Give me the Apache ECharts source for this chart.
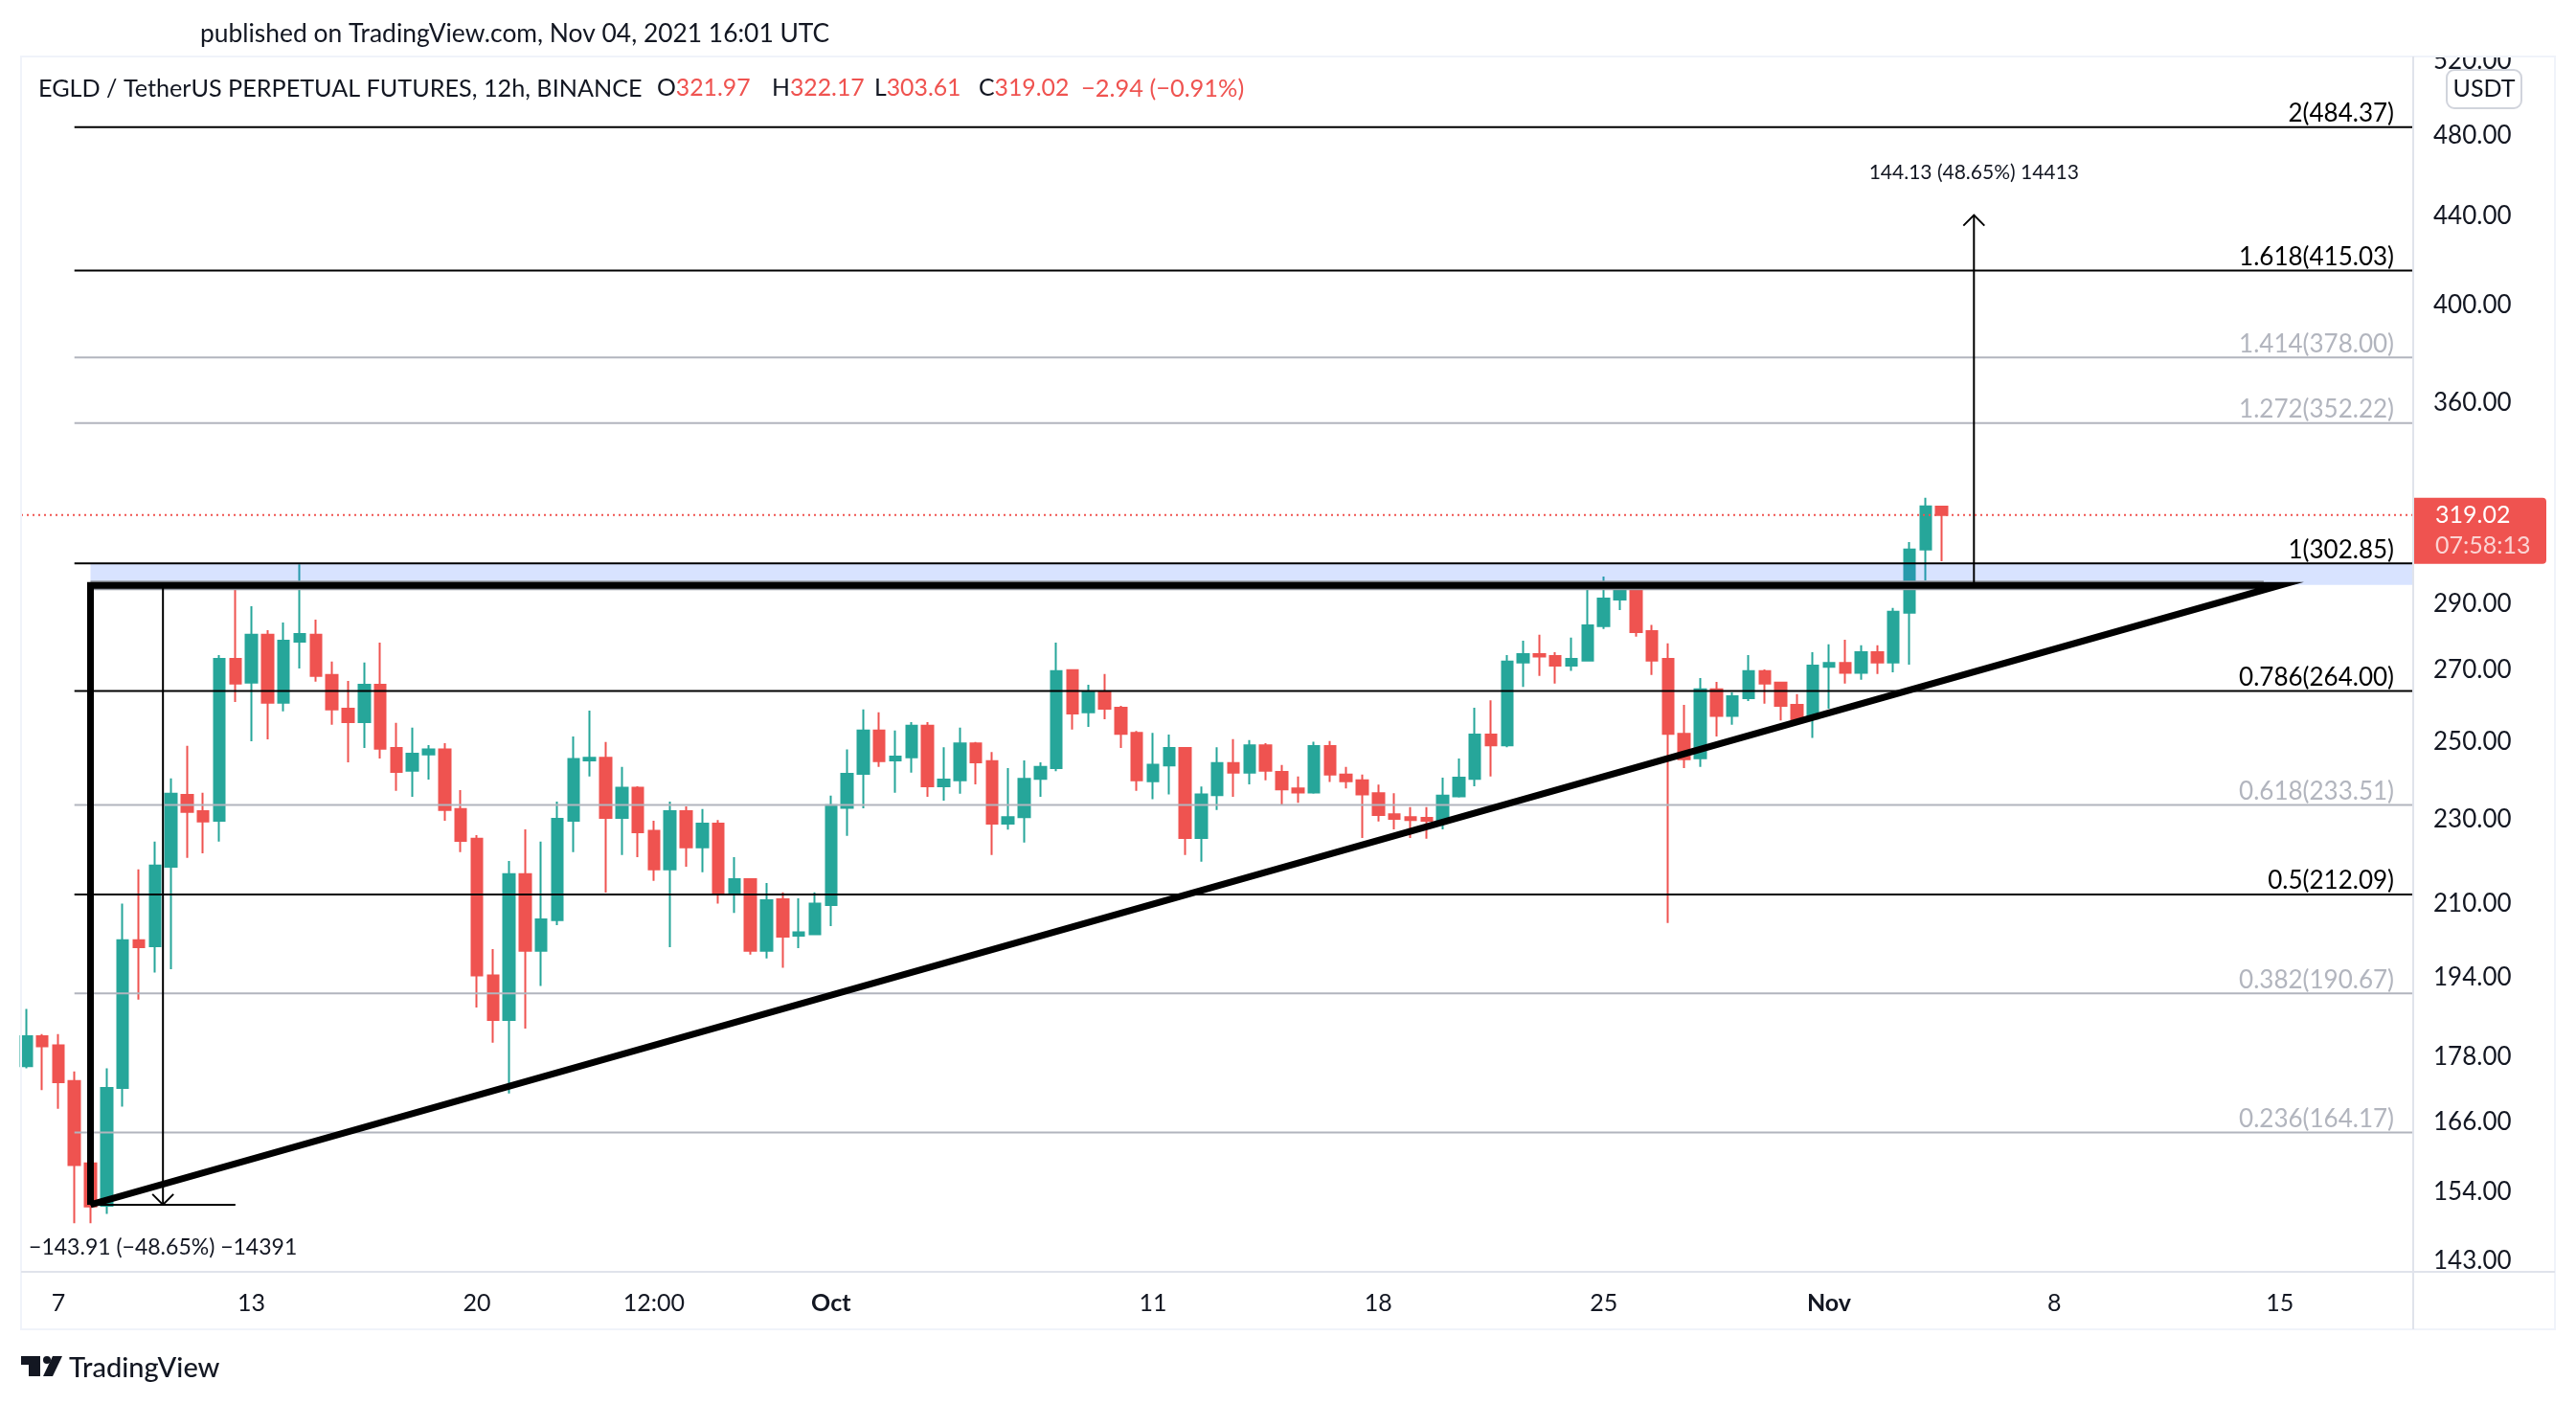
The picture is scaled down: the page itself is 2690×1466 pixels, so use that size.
<!DOCTYPE html>
<html>
<head>
<meta charset="utf-8">
<title>EGLD / TetherUS</title>
<script src="https://cdn.jsdelivr.net/npm/echarts@6/dist/echarts.min.js"></script>
<style>
  html, body { margin: 0; padding: 0; background: #fff; }
  #chart { width: 2690px; height: 1466px; }
</style>
</head>
<body>
<div id="chart"></div>
<script>
// 12h bars, month-day hour (UTC, 2021)
var bars = ['09-06 00','09-06 12','09-07 00','09-07 12','09-08 00','09-08 12','09-09 00','09-09 12','09-10 00','09-10 12',
  '09-11 00','09-11 12','09-12 00','09-12 12','09-13 00','09-13 12','09-14 00','09-14 12','09-15 00','09-15 12',
  '09-16 00','09-16 12','09-17 00','09-17 12','09-18 00','09-18 12','09-19 00','09-19 12','09-20 00','09-20 12',
  '09-21 00','09-21 12','09-22 00','09-22 12','09-23 00','09-23 12','09-24 00','09-24 12','09-25 00','09-25 12',
  '09-26 00','09-26 12','09-27 00','09-27 12','09-28 00','09-28 12','09-29 00','09-29 12','09-30 00','09-30 12',
  '10-01 00','10-01 12','10-02 00','10-02 12','10-03 00','10-03 12','10-04 00','10-04 12','10-05 00','10-05 12',
  '10-06 00','10-06 12','10-07 00','10-07 12','10-08 00','10-08 12','10-09 00','10-09 12','10-10 00','10-10 12',
  '10-11 00','10-11 12','10-12 00','10-12 12','10-13 00','10-13 12','10-14 00','10-14 12','10-15 00','10-15 12',
  '10-16 00','10-16 12','10-17 00','10-17 12','10-18 00','10-18 12','10-19 00','10-19 12','10-20 00','10-20 12',
  '10-21 00','10-21 12','10-22 00','10-22 12','10-23 00','10-23 12','10-24 00','10-24 12','10-25 00','10-25 12',
  '10-26 00','10-26 12','10-27 00','10-27 12','10-28 00','10-28 12','10-29 00','10-29 12','10-30 00','10-30 12',
  '10-31 00','10-31 12','11-01 00','11-01 12','11-02 00','11-02 12','11-03 00','11-03 12','11-04 00','11-04 12'];
var opens = [176.3,182.1,180.3,173.5,158.8,151.7,172.2,201.9,200.6,218.5,
  236.1,232.0,229.6,273.3,266.4,280.5,260.7,278.4,280.5,268.6,
  259.0,255.3,265.8,248.3,242.3,246.6,247.9,232.5,225.2,194.4,
  185.3,216.8,199.6,206.3,229.6,245.0,245.7,230.3,237.9,227.1,
  217.9,232.0,223.1,228.9,212.1,215.6,199.6,211.0,202.9,203.2,
  209.7,232.8,241.5,253.0,245.0,245.8,254.3,238.3,239.8,249.5,
  244.8,228.9,230.5,240.2,243.0,270.0,258.0,263.6,259.3,252.4,
  239.6,243.7,248.3,225.4,236.0,244.3,241.8,249.0,242.0,237.7,
  236.7,248.8,241.3,239.8,236.5,231.2,230.5,230.3,229.6,235.7,
  240.2,251.9,249.0,272.2,274.7,274.1,271.3,272.8,283.1,291.3,
  295.5,281.6,273.3,252.1,245.6,264.5,257.0,262.0,269.7,266.4,
  260.1,256.3,271.0,272.1,269.2,275.3,272.2,287.2,307.4,321.97];
var closes = [182.1,180.1,173.3,158.5,151.6,172.2,201.9,200.4,218.8,236.4,
  231.8,229.4,273.3,266.1,280.5,260.7,278.7,280.7,268.3,258.8,
  255.3,265.8,248.1,242.0,246.8,247.9,232.3,224.7,194.4,185.3,
  216.8,199.6,206.5,230.1,245.4,245.7,230.3,237.9,226.8,217.9,
  232.0,223.1,228.9,212.1,215.6,199.6,210.8,202.7,203.6,210.0,
  233.5,241.5,253.0,244.8,246.0,254.3,238.3,240.0,249.5,244.5,
  228.9,230.5,240.2,243.3,269.7,257.7,263.6,259.0,252.1,239.8,
  243.9,248.3,225.4,236.2,244.3,241.8,249.0,242.3,237.5,236.7,
  248.8,241.3,239.6,236.2,231.0,230.1,229.8,229.6,235.9,240.5,
  251.9,249.0,272.5,274.7,274.0,271.3,273.3,283.3,291.6,295.0,
  281.3,272.8,252.1,245.3,264.5,257.0,262.5,269.7,266.1,259.8,
  256.1,271.3,272.1,269.2,275.3,272.2,287.5,307.4,322.0,319.02];
var lows = [175.9,171.8,168.4,148.9,148.9,150.4,168.8,189.4,195.0,195.7,
  220.6,221.7,224.5,260.9,250.1,250.6,258.3,270.5,266.7,254.6,
  244.5,248.3,245.5,237.1,235.6,240.0,229.6,222.0,187.8,180.8,
  171.2,183.6,192.2,205.2,222.0,240.8,212.5,221.3,220.8,215.2,
  200.4,218.5,217.2,210.0,207.9,198.8,198.0,196.0,200.2,203.1,
  205.0,225.9,232.7,243.3,236.6,241.8,235.6,234.6,236.4,238.8,
  221.3,227.4,224.3,235.6,242.2,253.3,254.0,256.1,248.3,237.1,
  235.0,236.2,221.3,219.7,232.3,235.6,238.8,239.8,233.6,234.1,
  236.4,239.4,237.7,225.4,229.4,227.5,225.4,225.2,227.5,235.4,
  238.3,240.8,248.5,265.2,268.3,266.1,269.8,272.5,282.2,288.0,
  279.9,268.6,205.7,243.0,243.3,251.4,254.6,261.2,260.4,255.8,
  255.0,251.0,259.0,266.1,267.2,268.9,269.4,271.6,297.4,303.61];
var highs = [187.5,182.5,182.5,175.3,159.5,175.9,210.0,217.9,224.5,240.3,
  248.9,236.6,274.4,296.0,289.2,281.9,284.2,302.6,285.1,272.5,
  266.9,272.2,278.1,255.1,253.8,249.1,249.6,237.3,226.1,200.0,
  219.9,227.5,224.5,234.4,251.4,258.5,249.9,243.3,238.3,229.6,
  234.4,233.2,232.5,229.8,220.8,215.8,214.7,212.6,211.2,212.6,
  235.9,247.9,258.8,258.0,253.0,255.3,255.3,248.5,253.8,249.9,
  247.2,243.0,245.0,244.5,278.1,270.0,265.8,268.9,259.8,252.9,
  252.4,251.9,248.3,238.2,248.5,250.7,250.4,249.6,243.8,240.8,
  250.0,250.2,243.3,241.3,238.7,236.5,233.0,233.0,240.5,245.5,
  259.3,261.4,274.4,278.7,280.5,275.3,279.6,296.0,298.6,297.0,
  296.0,283.5,277.9,260.1,267.7,266.6,263.6,274.4,270.2,266.6,
  263.1,275.3,277.6,279.0,277.3,277.3,288.7,309.9,325.0,322.17];

var priceTicks = [520, 480, 440, 400, 360, 290, 270, 250, 230, 210, 194, 178, 166, 154, 143];
var timeTicks = ['09-07 00','09-13 00','09-20 00','09-25 12','10-01 00','10-11 00','10-18 00','10-25 00','11-01 00','11-08 00','11-15 00'];
var timeTickLabels = ['7','13','20','12:00','Oct','11','18','25','Nov','8','15'];

var fibRatios = ['2','1.618','1.414','1.272','1','0.786','0.618','0.5','0.382','0.236'];
var fibPrices = [484.37,415.03,378.00,352.22,302.85,264.00,233.51,212.09,190.67,164.17];
var fibMuted = ['1.414','1.272','0.618','0.382','0.236'];

var triangleTimes = ['09-08 00','09-08 00','11-15 00','09-08 00'];
var trianglePrices = [151.89,295.8,295.8,151.89];

var legendNames = ['O','H','L','C'];
var legendValues = ['321.97','322.17','303.61','319.02'];
var legendChange = '\u22122.94 (\u22120.91%)';

var lastPrice = 319.02;
var countdown = '07:58:13';

function ts(s) {
  return Date.UTC(2021, +s.slice(0, 2) - 1, +s.slice(3, 5), +s.slice(6, 8));
}

var GREEN = '#26a69a', RED = '#ef5350', INK = '#131722', MUTED = '#b2b5be';
var FONT = 'Lato';
var BAR_MS = 12 * 3600 * 1000;
var GRID = { left: 22, top: 59, right: 2520, bottom: 1328 };
var PX_PER_BAR = 16.81;

// x of 09-07 00:00 sits at 60.9px
var xMin = ts('09-07 00') - (60.9 - GRID.left) / PX_PER_BAR * BAR_MS;
var xMax = xMin + (GRID.right - GRID.left) / PX_PER_BAR * BAR_MS;

var candles = bars.map(function (b, i) {
  return [ts(b), opens[i], closes[i], lows[i], highs[i]];
});
var timeTickValues = timeTicks.map(ts);

function line(pts, stroke, width, dash) {
  return {
    type: 'polyline',
    shape: { points: pts },
    style: { stroke: stroke, lineWidth: width, fill: null, lineDash: dash || null }
  };
}

function text(str, x, y, fill, size, align) {
  return {
    type: 'text',
    style: {
      text: str, x: x, y: y, fill: fill,
      font: size + 'px ' + FONT,
      textAlign: align || 'left', textVerticalAlign: 'middle'
    }
  };
}

function overlay(name, data, renderItem) {
  return {
    name: name, type: 'custom', data: data, renderItem: renderItem,
    silent: true, clip: false, z: 5, animation: false, encode: { x: 0, y: 1 }
  };
}

var fibLines = fibPrices.map(function (p, i) { return [ts('09-07 12'), p, i]; });

var series = [
  {
    name: 'EGLDUSDT', type: 'candlestick', data: candles, barWidth: 12, z: 2,
    itemStyle: { color: GREEN, color0: RED, borderColor: GREEN, borderColor0: RED, borderWidth: 2 }
  },
  // S/R zone, grey edge under the thick line
  overlay('zone', [[ts('09-08 00'), 302.85, 295.9]], function (p, api) {
    var a = api.coord([api.value(0), api.value(1)]);
    var b = api.coord([xMax, api.value(2)]);
    var e = api.coord([ts('11-14 12'), 295.8]);
    return { type: 'group', children: [
      { type: 'rect', shape: { x: a[0], y: a[1], width: b[0] - a[0], height: b[1] - a[1] },
        style: { fill: 'rgba(41,98,255,0.18)' } },
      line([[a[0], e[1]], e], '#9598a1', 10)
    ] };
  }),
  // fib levels
  overlay('fib', fibLines, function (p, api) {
    var i = api.value(2);
    var a = api.coord([api.value(0), api.value(1)]);
    var b = api.coord([xMax, api.value(1)]);
    var muted = fibMuted.indexOf(fibRatios[i]) >= 0;
    var c = muted ? MUTED : '#000';
    return { type: 'group', children: [
      line([a, b], c, 2),
      text(fibRatios[i] + '(' + fibPrices[i].toFixed(2) + ')', b[0] - 20, b[1] - 14, c, 26, 'right')
    ] };
  }),
  // triangle
  {
    name: 'triangle', type: 'line', showSymbol: false, silent: true, z: 6, animation: false,
    data: triangleTimes.map(function (t, i) { return [ts(t), trianglePrices[i]]; }),
    lineStyle: { color: '#000', width: 7, join: 'miter' }
  },
  // measures
  overlay('measure', [
    [ts('11-05 12'), 295.8, 440.6, 0],
    [ts('09-10 06'), 295.8, 151.89, 1]
  ], function (p, api) {
    var a = api.coord([api.value(0), api.value(1)]);
    var b = api.coord([api.value(0), api.value(2)]);
    var up = api.value(3) === 0;
    var d = up ? 1 : -1;
    var kids = [
      line([a, b], '#000', 2),
      line([[b[0] - 11, b[1] + d * 11], b, [b[0] + 11, b[1] + d * 11]], '#000', 2),
      up ? text('144.13 (48.65%) 14413', b[0], b[1] - 44, INK, 21, 'center')
         : text('\u2212143.91 (\u221248.65%) \u221214391', b[0], b[1] + 45, INK, 23, 'center')
    ];
    if (!up) {
      var l = api.coord([ts('09-08 00'), api.value(2)]);
      var r = api.coord([ts('09-12 12'), api.value(2)]);
      kids.push(line([l, r], '#000', 2));
    }
    return { type: 'group', children: kids };
  }),
  // last price
  overlay('last', [[ts('09-06 00'), lastPrice]], function (p, api) {
    var y = api.coord([xMax, lastPrice]);
    return { type: 'group', children: [
      line([[GRID.left, y[1]], y], RED, 2, [2, 4]),
      { type: 'rect', shape: { x: y[0], y: y[1] - 18, width: 139, height: 69, r: [0, 4, 4, 0] }, style: { fill: RED } },
      text(lastPrice.toFixed(2), 2543, y[1], '#fff', 25),
      text(countdown, 2543, y[1] + 32, 'rgba(255,255,255,0.75)', 25)
    ] };
  })
];

function titleItem(str, left, top, size) {
  return {
    text: str, left: left, top: top, padding: 0,
    textStyle: { color: INK, fontFamily: FONT, fontSize: size, fontWeight: 'normal',
      rich: {
        d: { color: INK, fontFamily: FONT, fontSize: size },
        r: { color: RED, fontFamily: FONT, fontSize: size }
      } }
  };
}

var legendLefts = [686, 806, 913, 1022];
var titles = [
  titleItem('published on TradingView.com, Nov 04, 2021 16:01 UTC', 209, 22, 26.4),
  titleItem('EGLD / TetherUS PERPETUAL FUTURES, 12h, BINANCE', 40, 80, 25.2),
  titleItem('{r|' + legendChange + '}', 1129, 80, 25.4)
];
legendNames.forEach(function (n, i) {
  titles.push(titleItem('{d|' + n + '}{r|' + legendValues[i] + '}', legendLefts[i], 80, 24.8));
});
var logoTitle = titleItem('TradingView', 72, 1414, 29);
logoTitle.textStyle.fontWeight = 500;
titles.push(logoTitle);

var option = {
  animation: false,
  backgroundColor: '#fff',
  title: titles,
  grid: { left: GRID.left, top: GRID.top, width: GRID.right - GRID.left, height: GRID.bottom - GRID.top, containLabel: false },
  xAxis: {
    type: 'value', min: xMin, max: xMax,
    axisLine: { show: false }, axisTick: { show: false }, splitLine: { show: false },
    axisLabel: {
      customValues: timeTickValues,
      margin: 20, color: INK, fontFamily: FONT, fontSize: 25, hideOverlap: false,
      formatter: function (v) {
        var lb = timeTickLabels[timeTickValues.indexOf(v)];
        return (lb === 'Oct' || lb === 'Nov') ? '{b|' + lb + '}' : lb;
      },
      rich: { b: { fontWeight: 'bold', fontFamily: FONT, fontSize: 25, color: INK } }
    }
  },
  yAxis: {
    type: 'log', logBase: 10, position: 'right', min: 141.3, max: 522.6,
    axisLine: { show: false }, axisTick: { show: false }, splitLine: { show: false },
    axisLabel: {
      customValues: priceTicks,
      margin: 21, color: INK, fontFamily: FONT, fontSize: 26, padding: [6, 0, 0, 0],
      formatter: function (v) { return (+v).toFixed(2); }
    }
  },
  series: series,
  graphic: [
    // chart frame, top of the axis strip is cut like the pane
    { type: 'rect', z: 100, silent: true, shape: { x: 2522, y: 36, width: 145, height: 22 }, style: { fill: '#fff' } },
    { type: 'rect', z: 101, silent: true, shape: { x: 22, y: 59, width: 2646, height: 1329 }, style: { fill: null, stroke: '#f0f3fa', lineWidth: 2 } },
    { type: 'line', z: 101, silent: true, shape: { x1: 2520, y1: 59, x2: 2520, y2: 1388 }, style: { stroke: '#e0e3eb', lineWidth: 2 } },
    { type: 'line', z: 101, silent: true, shape: { x1: 22, y1: 1328, x2: 2668, y2: 1328 }, style: { stroke: '#e0e3eb', lineWidth: 2 } },
    // currency badge
    { type: 'rect', z: 102, silent: true, shape: { x: 2555, y: 73, width: 78, height: 40, r: 8 }, style: { fill: '#fff', stroke: '#d1d4dc', lineWidth: 2 } },
    { type: 'text', z: 103, silent: true, style: { text: 'USDT', x: 2594, y: 93, fill: INK, font: '25px ' + FONT, textAlign: 'center', textVerticalAlign: 'middle' } },
    // logo
    { type: 'polygon', z: 103, silent: true, shape: { points: [[22,1416],[42,1416],[42,1437],[30,1437],[30,1425],[22,1425]] }, style: { fill: INK } },
    { type: 'circle', z: 103, silent: true, shape: { cx: 49, cy: 1420, r: 4 }, style: { fill: INK } },
    { type: 'polygon', z: 103, silent: true, shape: { points: [[55,1416],[65,1416],[55,1437],[45,1437]] }, style: { fill: INK } }
  ]
};

var chart = echarts.init(document.getElementById('chart'));
chart.setOption(option);
</script>
</body>
</html>
